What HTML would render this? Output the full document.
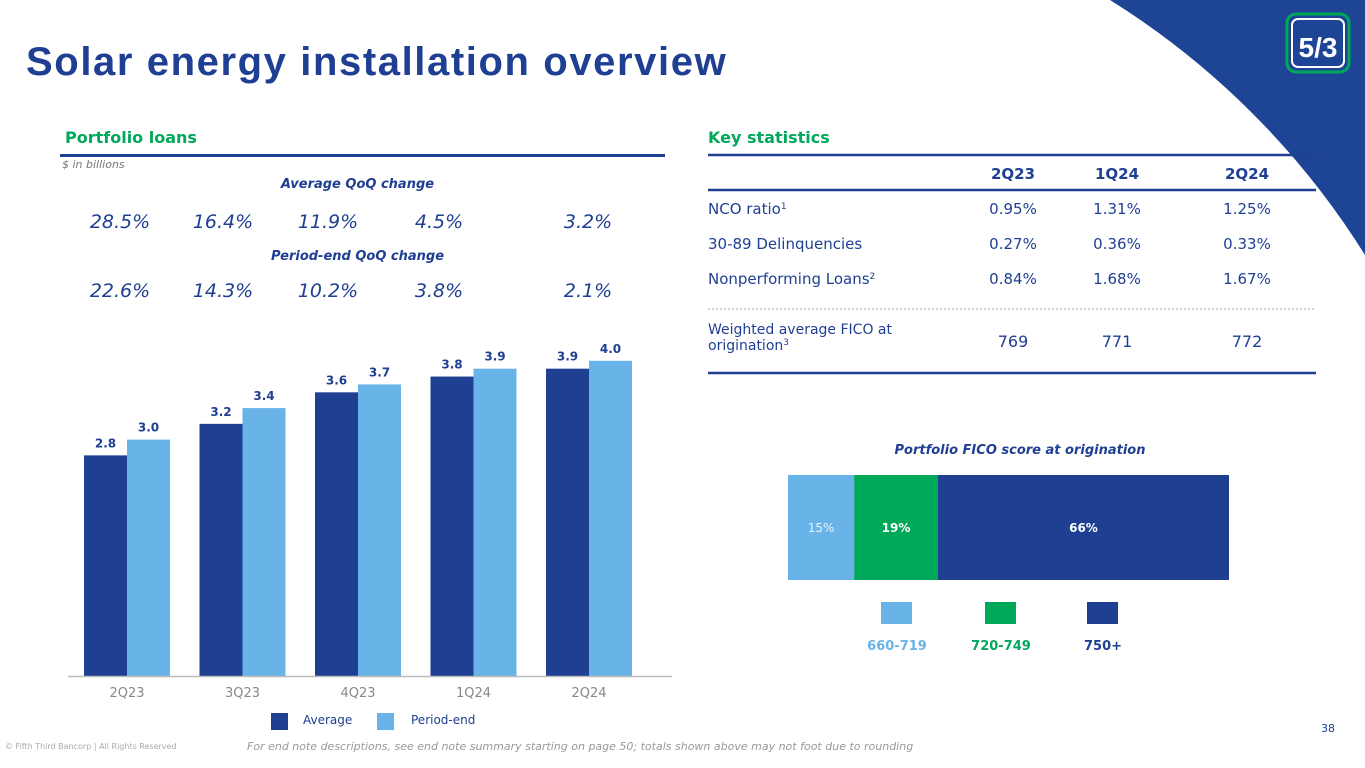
<!DOCTYPE html>
<html><head><meta charset="utf-8"><style>
body{margin:0;width:1365px;height:768px;overflow:hidden;background:#fff;font-family:"DejaVu Sans","Liberation Sans",sans-serif;position:relative;color:#1f3f93}
.a{position:absolute;white-space:nowrap}
</style></head><body>
<svg class="a" style="left:0;top:0" width="1365" height="768">
<path d="M1110,0 L1365,0 L1365,255 A800,800 0 0 0 1110,0 Z" fill="#1e4496"/>
<rect x="1287" y="14" width="62" height="58" rx="9" fill="#1e4496" stroke="#00a85a" stroke-width="3"/>
<rect x="1292" y="19" width="52" height="48" rx="6" fill="none" stroke="#fff" stroke-width="2"/>
<text x="1318" y="57" text-anchor="middle" fill="#fff" font-size="28" font-weight="bold" font-family="Liberation Sans">5/3</text>
</svg>
<div class="a" style="left:26px;top:40px;font-family:'Liberation Sans',sans-serif;font-size:40px;font-weight:bold;color:#1f3f93;letter-spacing:1.6px">Solar energy installation overview</div>
<div class="a" style="left:65px;top:128px;font-size:16px;font-weight:bold;color:#00a85a">Portfolio loans</div>
<div class="a" style="left:60px;top:154px;width:605px;height:3px;background:#1f3f93"></div>
<div class="a" style="left:62px;top:158px;font-size:11px;font-style:italic;color:#777">$ in billions</div>
<div class="a" style="left:240px;top:177px;width:235px;text-align:center;font-size:13px;font-weight:bold;font-style:italic">Average QoQ change</div>
<div class="a" style="left:240px;top:249px;width:235px;text-align:center;font-size:13px;font-weight:bold;font-style:italic">Period-end QoQ change</div>
<div id="qoq"></div>
<svg class="a" id="bars" style="left:0;top:0" width="700" height="740"></svg>
<div class="a" style="left:708px;top:128px;font-size:16px;font-weight:bold;color:#00a85a">Key statistics</div>
<svg class="a" id="tbl" style="left:0;top:0" width="1365" height="400"></svg>
<div class="a" style="left:850px;top:443px;width:340px;text-align:center;font-size:13px;font-weight:bold;font-style:italic">Portfolio FICO score at origination</div>
<svg class="a" id="fico" style="left:0;top:0" width="1365" height="680"></svg>
<div class="a" style="left:5px;top:742px;font-size:8px;color:#aaa">© Fifth Third Bancorp | All Rights Reserved</div>
<div class="a" style="left:247px;top:740px;font-size:11px;font-style:italic;color:#999">For end note descriptions, see end note summary starting on page 50; totals shown above may not foot due to rounding</div>
<div class="a" style="left:1321px;top:722px;font-size:11px;color:#1f3f93">38</div>
<script>
const NS='http://www.w3.org/2000/svg';
function mk(p,t,at,txt){const e=document.createElementNS(NS,t);for(const k in at)e.setAttribute(k,at[k]);if(txt!=null)e.textContent=txt;p.appendChild(e);return e;}
const categories=['2Q23','3Q23','4Q23','1Q24','2Q24'];
const averageValues=[2.8,3.2,3.6,3.8,3.9];
const periodEndValues=[3.0,3.4,3.7,3.9,4.0];
const avgQoQ=['28.5%','16.4%','11.9%','4.5%','3.2%'];
const peQoQ=['22.6%','14.3%','10.2%','3.8%','2.1%'];
const ficoBands=['660-719','720-749','750+'];
const ficoShares=[15,19,66];
const statCols=['2Q23','1Q24','2Q24'];
const statRows=['NCO ratio','30-89 Delinquencies','Nonperforming Loans'];
const statSup=['1','','2'];
const statVals=[['0.95%','1.31%','1.25%'],['0.27%','0.36%','0.33%'],['0.84%','1.68%','1.67%']];
const ficoVals=['769','771','772'];

const DARK='#1f3f93',LIGHT='#68b3e8',GREEN='#00a85a';
const base=676,scale=78.8;
const y=v=>base-v*scale;
const gx=i=>84+i*115.5;
const bw=43;
const s=document.getElementById('bars');
const qd=document.getElementById('qoq');
const qx=[120,223,328,439,588];
categories.forEach((c,i)=>{
  const x=gx(i);
  let r=mk(s,'rect',{x:x,y:y(averageValues[i]),width:bw,height:averageValues[i]*scale,fill:DARK});
  
  
  r=mk(s,'rect',{x:x+bw,y:y(periodEndValues[i]),width:bw,height:periodEndValues[i]*scale,fill:LIGHT});
  
  
  let t=mk(s,'text',{x:x+bw/2,y:y(averageValues[i])-8,'text-anchor':'middle','font-size':12,'font-weight':'bold',fill:DARK},averageValues[i].toFixed(1));
  
  
  t=mk(s,'text',{x:x+bw*1.5,y:y(periodEndValues[i])-8,'text-anchor':'middle','font-size':12,'font-weight':'bold',fill:DARK},periodEndValues[i].toFixed(1));
  
  
  t=mk(s,'text',{x:x+bw,y:697,'text-anchor':'middle','font-size':13,fill:'#888'},c);
  
  
  ['avg','pe'].forEach((k,j)=>{
    const d=document.createElement('div');
    d.className='a';
    
    
    d.style.cssText='left:'+(qx[i]-50)+'px;width:100px;text-align:center;top:'+(j?280:211)+'px;font-size:19px;font-style:italic;color:#1f3f93';
    d.textContent=(j?peQoQ:avgQoQ)[i];
    qd.appendChild(d);
  });
});
let ax=mk(s,'line',{x1:68,x2:672,y1:base+0.5,y2:base+0.5,stroke:'#bbb','stroke-width':1.5});


[[271,DARK,'Average',303],[377,LIGHT,'Period-end',411]].forEach(l=>{
  const g=mk(s,'g',{});
  
  
  mk(g,'rect',{x:l[0],y:713,width:17,height:17,fill:l[1]});
  mk(g,'text',{x:l[3],y:724,'font-size':12,fill:DARK},l[2]);
});

// table
const tb=document.getElementById('tbl');
const cx=[1013,1117,1247];
mk(tb,'line',{x1:708,x2:1316,y1:155,y2:155,stroke:DARK,'stroke-width':2.5});
mk(tb,'line',{x1:708,x2:1316,y1:190,y2:190,stroke:DARK,'stroke-width':2.5});
mk(tb,'line',{x1:708,x2:1316,y1:309,y2:309,stroke:'#aab','stroke-width':1,'stroke-dasharray':'2,2'});
mk(tb,'line',{x1:708,x2:1316,y1:373,y2:373,stroke:DARK,'stroke-width':2.5});
statCols.forEach((c,j)=>{
  const t=mk(tb,'text',{x:cx[j],y:179,'text-anchor':'middle','font-size':15,'font-weight':'bold',fill:DARK},c);
  
  
});
statRows.forEach((r,i)=>{
  const yy=214+i*35;
  const t=mk(tb,'text',{x:708,y:yy,'font-size':15,fill:DARK},r);
  
  
  if(statSup[i])mk(t,'tspan',{dy:-5,'font-size':9},statSup[i]);
  statVals[i].forEach((v,j)=>{
    const c=mk(tb,'text',{x:cx[j],y:yy,'text-anchor':'middle','font-size':15,fill:DARK},v);
    
    
  });
});
let ft=mk(tb,'text',{x:708,y:334,'font-size':14,fill:DARK},'Weighted average FICO at');


const f2=mk(tb,'text',{x:708,y:350,'font-size':14,fill:DARK},'origination');
mk(f2,'tspan',{dy:-5,'font-size':9},'3');
ficoVals.forEach((v,j)=>{
  const c=mk(tb,'text',{x:cx[j],y:347,'text-anchor':'middle','font-size':16,fill:DARK},v);
  
  
});

// fico stacked
const fs=document.getElementById('fico');
const fcol=[LIGHT,GREEN,DARK];
const fscale=4.41;let acc=788;
const lgx=[881,985,1087];
ficoShares.forEach((v,i)=>{
  const w=v*fscale;
  const r=mk(fs,'rect',{x:acc,y:475,width:w,height:105,fill:fcol[i]});
  
  
  const t=mk(fs,'text',{x:acc+w/2,y:532,'text-anchor':'middle','font-size':12,'font-weight':i?'bold':'normal',fill:i?'#fff':'#eaf4fc'},v+'%');
  
  
  acc+=w;
  const g=mk(fs,'g',{});
  
  
  mk(g,'rect',{x:lgx[i],y:602,width:31,height:22,fill:fcol[i]});
  mk(g,'text',{x:lgx[i]+16,y:650,'text-anchor':'middle','font-size':13,'font-weight':'bold',fill:fcol[i]},ficoBands[i]);
});
</script>
</body></html>
